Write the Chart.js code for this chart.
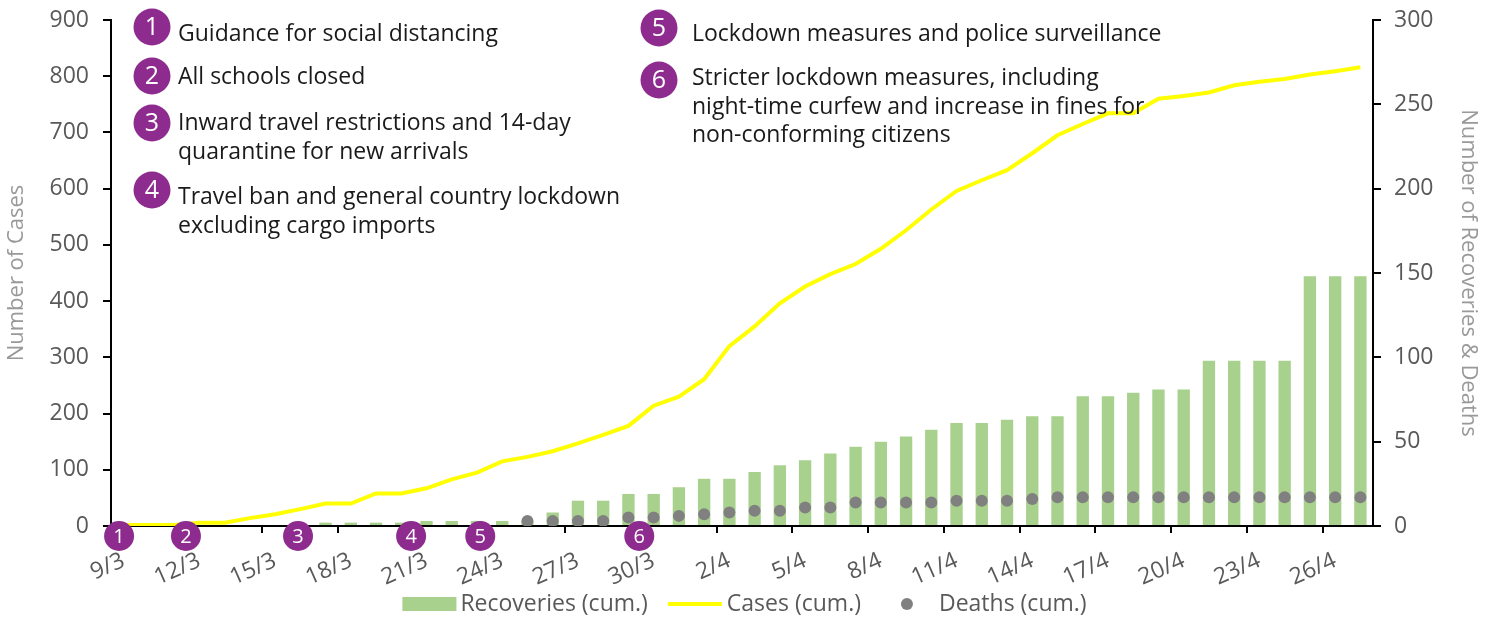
<!DOCTYPE html>
<html><head><meta charset="utf-8">
<script src="https://cdn.jsdelivr.net/npm/chart.js@4/dist/chart.umd.min.js"></script>
<style>html,body{margin:0;padding:0;background:#fff;}#wrap{width:1487px;height:617px;position:relative;}</style>
</head><body><div id="wrap"><canvas id="c"></canvas></div>
<script>
const dates = ['9/3','10/3','11/3','12/3','13/3','14/3','15/3','16/3','17/3','18/3','19/3','20/3','21/3','22/3','23/3','24/3','25/3','26/3','27/3','28/3','29/3','30/3','31/3',
  '1/4','2/4','3/4','4/4','5/4','6/4','7/4','8/4','9/4','10/4','11/4','12/4','13/4','14/4','15/4','16/4','17/4','18/4','19/4','20/4','21/4','22/4','23/4','24/4','25/4','26/4','27/4'];
const cases = [2,2,2,6,6,14,21,30,40,40,58,58,67,83,95,115,123,133,147,162,178,214,230,261,320,355,396,426,448,466,493,526,563,596,615,633,663,695,715,734,734,760,765,771,784,790,795,803,809,816];
const recoveries = [0,0,0,0,0,0,0,0,2,2,2,2,3,3,3,3,3,8,15,15,19,19,23,28,28,32,36,39,43,47,50,53,57,61,61,63,65,65,77,77,79,81,81,98,98,98,98,148,148,148];
const deaths = [null,null,null,null,null,null,null,null,null,null,null,null,null,null,null,null,3,3,3,3,5,5,6,7,8,9,9,11,11,14,14,14,14,15,15,15,16,17,17,17,17,17,17,17,17,17,17,17,17,17];
const leftTicks = [0,100,200,300,400,500,600,700,800,900];
const rightTicks = [0,50,100,150,200,250,300];
const seriesNames = ['Cases (cum.)','Recoveries (cum.)','Deaths (cum.)'];
const axisTitles = ['Number of Cases','Number of Recoveries & Deaths'];
const eventNumbers = ['1','2','3','4','5','6'];
const eventTexts = [
  ['Guidance for social distancing'],
  ['All schools closed'],
  ['Inward travel restrictions and 14-day','quarantine for new arrivals'],
  ['Travel ban and general country lockdown','excluding cargo imports'],
  ['Lockdown measures and police surveillance'],
  ['Stricter lockdown measures, including','night-time curfew and increase in fines for','non-conforming citizens']
];
// event marker positions on the date axis (category index, fractional)
const eventAxisPos = [-0.18, 2.47, 6.91, 11.39, 14.13, 20.43];

const FONT = "'Open Sans', sans-serif";
const PURPLE = '#8E2B8F';
const GREEN = '#A9D18E';
const YELLOW = '#FFFF00';
const GREY = '#808080';

// layout of the note block (circle centre and first text baseline)
const noteLayout = [
  {cx:152, cy:27, tx:178, ty:41},
  {cx:152, cy:76, tx:178, ty:84},
  {cx:152, cy:123, tx:178, ty:130},
  {cx:152, cy:190, tx:178, ty:204},
  {cx:659, cy:28, tx:692, ty:41},
  {cx:659, cy:80, tx:692, ty:85}
];

function circleNum(ctx, x, y, r, txt, size) {
  ctx.save();
  ctx.beginPath(); ctx.arc(x, y, r, 0, Math.PI*2); ctx.fillStyle = PURPLE; ctx.fill();
  ctx.fillStyle = '#fff'; ctx.font = size + 'px ' + FONT;
  ctx.textAlign = 'center'; ctx.textBaseline = 'middle';
  ctx.fillText(txt, x, y + 1);
  ctx.restore();
}

const annotPlugin = {
  id: 'annot',
  afterDraw(chart) {
    const ctx = chart.ctx, xs = chart.scales.x, ca = chart.chartArea;
    ctx.save();
    noteLayout.forEach((n, i) => {
      circleNum(ctx, n.cx, n.cy, 18.5, eventNumbers[i], 25);
      ctx.fillStyle = '#1a1a1a'; ctx.font = '23px ' + FONT;
      ctx.textAlign = 'left'; ctx.textBaseline = 'alphabetic';
      eventTexts[i].forEach((t, k) => ctx.fillText(t, n.tx, n.ty + k * 28.5));
    });
    eventAxisPos.forEach((p, i) => {
      circleNum(ctx, xs.getPixelForValue(p), ca.bottom + 10, 15, eventNumbers[i], 20);
    });
    // legend
    const order = [1, 0, 2];
    ctx.font = '23px ' + FONT; ctx.textBaseline = 'middle'; ctx.textAlign = 'left';
    const symW = [54, 54, 12], gapT = [4, 5, 26], gapI = [20, 40, 0];
    let total = 0;
    order.forEach((d, k) => { total += symW[k] + gapT[k] + ctx.measureText(chart.data.datasets[d].label).width + gapI[k]; });
    let x = 744.5 - total / 2; const y = 604;
    order.forEach((d, k) => {
      const ds = chart.data.datasets[d];
      if (k === 0) { ctx.fillStyle = ds.backgroundColor; ctx.fillRect(x, y - 7, symW[k], 14); }
      else if (k === 1) { ctx.strokeStyle = ds.borderColor; ctx.lineWidth = 4; ctx.beginPath(); ctx.moveTo(x, y); ctx.lineTo(x + symW[k], y); ctx.stroke(); }
      else { ctx.fillStyle = ds.pointBackgroundColor; ctx.beginPath(); ctx.arc(x + 6, y, 6, 0, Math.PI*2); ctx.fill(); }
      x += symW[k] + gapT[k];
      ctx.fillStyle = '#595959'; ctx.fillText(ds.label, x, y);
      x += ctx.measureText(ds.label).width + gapI[k];
    });
    ctx.restore();
  }
};

const noPad = s => { s.paddingTop = 0; s.paddingBottom = 0; };
const tickFont = {family: FONT, size: 23};
new Chart(document.getElementById('c'), {
  data: {
    labels: dates,
    datasets: [
      {type: 'line', label: seriesNames[0], data: cases, yAxisID: 'y', borderColor: YELLOW, borderWidth: 4, pointRadius: 0, tension: 0, order: 2},
      {type: 'bar', label: seriesNames[1], data: recoveries, yAxisID: 'y2', backgroundColor: GREEN, barPercentage: 0.49, categoryPercentage: 1, order: 3},
      {type: 'line', label: seriesNames[2], data: deaths, yAxisID: 'y2', showLine: false, pointRadius: 6, pointBackgroundColor: GREY, pointBorderWidth: 0, order: 1}
    ]
  },
  options: {
    responsive: true, maintainAspectRatio: false, animation: false,
    layout: {padding: {top: 20, left: 0, right: 0, bottom: 0}},
    plugins: {legend: {display: false}, tooltip: {enabled: false}},
    scales: {
      x: {
        type: 'category', offset: true,
        grid: {offset: true, drawOnChartArea: false, tickLength: 7, lineWidth: 2,
               color: c => (c.index % 3 === 0 && c.index < dates.length) ? '#000' : 'rgba(0,0,0,0)'},
        border: {display: true, color: '#000', width: 2},
        ticks: {autoSkip: false, maxRotation: 24, minRotation: 24, color: '#595959', font: tickFont, padding: 14,
                callback: (v, i) => (i % 3 === 0 ? dates[i] : '')},
        afterFit: s => { s.height = 91; }
      },
      y: {
        position: 'left', min: 0, max: 900,
        afterBuildTicks: s => { s.ticks = leftTicks.map(v => ({value: v})); },
        grid: {drawOnChartArea: false, tickLength: 8, lineWidth: 2, color: '#000'},
        border: {display: true, color: '#000', width: 2},
        ticks: {color: '#595959', font: tickFont, padding: 14},
        title: {display: true, text: axisTitles[0], color: '#999999', font: {family: FONT, size: 22}, padding: {top: 4, bottom: 0}},
        afterFit: s => { s.width = 111; noPad(s); }
      },
      y2: {
        position: 'right', min: 0, max: 300,
        afterBuildTicks: s => { s.ticks = rightTicks.map(v => ({value: v})); },
        grid: {drawOnChartArea: false, tickLength: 8, lineWidth: 2, color: '#000'},
        border: {display: true, color: '#000', width: 2},
        ticks: {color: '#595959', font: tickFont, padding: 13},
        title: {display: true, text: axisTitles[1], color: '#999999', font: {family: FONT, size: 22}, padding: {top: 6, bottom: 0}},
        afterFit: s => { s.width = 114; noPad(s); }
      }
    }
  },
  plugins: [annotPlugin]
});
</script></body></html>
